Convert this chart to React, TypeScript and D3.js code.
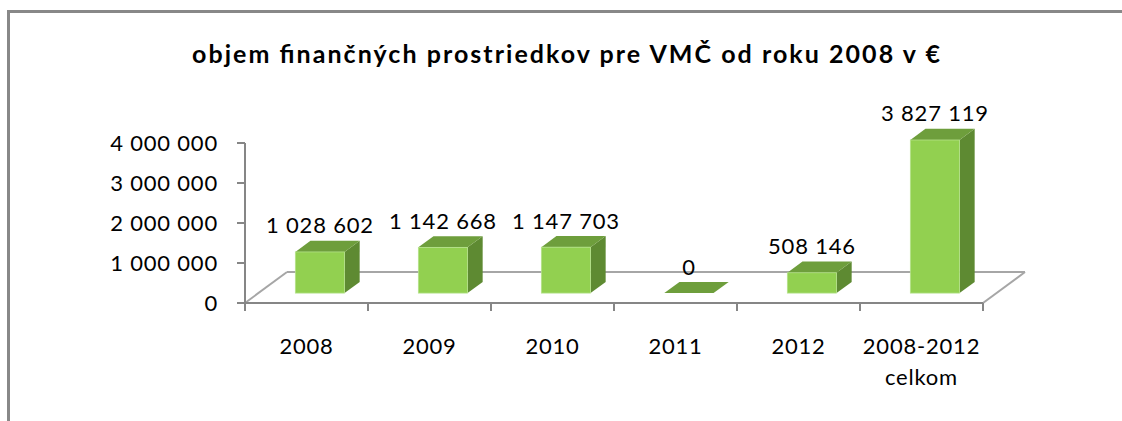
import React, { useEffect, useRef } from 'react';
import * as d3 from 'd3';

// data
const categories = ['2008', '2009', '2010', '2011', '2012', '2008-2012 celkom'];
const values = [1028602, 1142668, 1147703, 0, 508146, 3827119];
const yTicks = [0, 1000000, 2000000, 3000000, 4000000];
const title = 'objem finančných prostriedkov pre VMČ od roku 2008 v €';

const App = () => {
  const ref = useRef<SVGSVGElement | null>(null);

  useEffect(() => {
    if (!ref.current) return;
    const svg = d3.select(ref.current);
    svg.selectAll('*').remove();

    const font = 'Lato, "Open Sans", sans-serif';
    const fmt = (v: number) => d3.format(',')(v).replace(/,/g, ' ');

    // front plane of the 3D floor
    const x = d3.scaleBand().domain(categories).range([245, 983]).paddingInner(0).paddingOuter(0);
    const y = d3.scaleLinear().domain([0, 4000000]).range([303, 143]);

    // depth vector of the floor, and where the bars sit inside it
    const depth = { dx: 42, dy: -31 };
    const f0 = 0.32, f1 = 0.68;

    // outer frame (only left + top visible)
    svg.append('path')
      .attr('d', 'M8.5,421 L8.5,11.5 L1122,11.5')
      .attr('fill', 'none')
      .attr('stroke', '#888888')
      .attr('stroke-width', 3);

    // title
    svg.append('text')
      .attr('x', 566)
      .attr('y', 63)
      .attr('text-anchor', 'middle')
      .attr('font-family', font)
      .attr('font-weight', 'bold')
      .attr('font-size', 25)
      .attr('textLength', 748)
      .attr('lengthAdjust', 'spacing')
      .attr('fill', '#000')
      .text(title);

    const [x0, x1] = x.range();
    const y0 = y(0);

    // floor back line + side diagonals
    const floor = svg.append('g').attr('fill', 'none').attr('stroke', '#a6a6a6').attr('stroke-width', 2);
    floor.append('line')
      .attr('x1', x0 + depth.dx).attr('y1', y0 + depth.dy)
      .attr('x2', x1 + depth.dx).attr('y2', y0 + depth.dy);
    floor.append('line')
      .attr('x1', x0).attr('y1', y0)
      .attr('x2', x0 + depth.dx).attr('y2', y0 + depth.dy);
    floor.append('line')
      .attr('x1', x1).attr('y1', y0)
      .attr('x2', x1 + depth.dx).attr('y2', y0 + depth.dy);

    // bars
    const bw = x.bandwidth() * 0.4;
    const bars = svg.append('g');
    categories.forEach((c, i) => {
      const v = values[i];
      const fx = (x(c) as number) + x.bandwidth() * 0.3 + f0 * depth.dx;
      const fb = y0 + f0 * depth.dy;
      const ft = y(v) + f0 * depth.dy;
      const ddx = (f1 - f0) * depth.dx;
      const ddy = (f1 - f0) * depth.dy;
      const h = fb - ft;

      // side face
      bars.append('path')
        .attr('d', `M${fx + bw},${ft} L${fx + bw + ddx},${ft + ddy} L${fx + bw + ddx},${fb + ddy} L${fx + bw},${fb} Z`)
        .attr('fill', '#5e8a32');
      // top face
      bars.append('path')
        .attr('d', `M${fx},${ft} L${fx + ddx},${ft + ddy} L${fx + bw + ddx},${ft + ddy} L${fx + bw},${ft} Z`)
        .attr('fill', '#6e9e3c');
      // front face
      if (h > 0) {
        bars.append('rect')
          .attr('x', fx).attr('y', ft)
          .attr('width', bw).attr('height', h)
          .attr('fill', '#92d050')
          .attr('stroke', '#b5e28a')
          .attr('stroke-width', 0.8);
      }

      // value label
      bars.append('text')
        .attr('x', fx + bw / 2)
        .attr('y', ft - 18.5)
        .attr('text-anchor', 'middle')
        .attr('font-family', font)
        .attr('font-size', 22)
        .attr('letter-spacing', 0.8)
        .attr('fill', '#000')
        .text(fmt(v));
    });

    // front axis line with ticks
    const axis = svg.append('g').attr('stroke', '#868686').attr('stroke-width', 2);
    axis.append('line').attr('x1', x0).attr('y1', y0).attr('x2', x1).attr('y2', y0);
    const bounds = categories.map(c => x(c) as number).concat([x1]);
    bounds.forEach(b => {
      axis.append('line').attr('x1', b).attr('y1', y0).attr('x2', b).attr('y2', y0 + 8);
    });

    // vertical axis
    axis.append('line').attr('x1', x0).attr('y1', y(4000000)).attr('x2', x0).attr('y2', y0);
    yTicks.forEach(t => {
      axis.append('line').attr('x1', x0 - 8).attr('y1', y(t)).attr('x2', x0).attr('y2', y(t));
    });

    // y tick labels
    svg.append('g')
      .selectAll('text')
      .data(yTicks)
      .enter()
      .append('text')
        .attr('x', 218)
        .attr('y', d => y(d))
        .attr('dy', '0.36em')
        .attr('text-anchor', 'end')
        .attr('font-family', font)
        .attr('font-size', 22)
        .attr('letter-spacing', 0.8)
        .attr('fill', '#000')
        .text(d => fmt(d));

    // category labels
    const cat = svg.append('g');
    categories.forEach(c => {
      const cx = (x(c) as number) + x.bandwidth() / 2;
      const lines = c.split(' ');
      lines.forEach((ln, j) => {
        cat.append('text')
          .attr('x', cx)
          .attr('y', 354 + j * 31)
          .attr('text-anchor', 'middle')
          .attr('font-family', font)
          .attr('font-size', 22)
          .attr('letter-spacing', 0.8)
          .attr('fill', '#000')
          .text(ln);
      });
    });
  }, []);

  return (
    <svg
      ref={ref}
      width={1122}
      height={421}
      style={{ position: 'absolute', left: 0, top: 0, background: '#fff' }}
    />
  );
};

export default App;
